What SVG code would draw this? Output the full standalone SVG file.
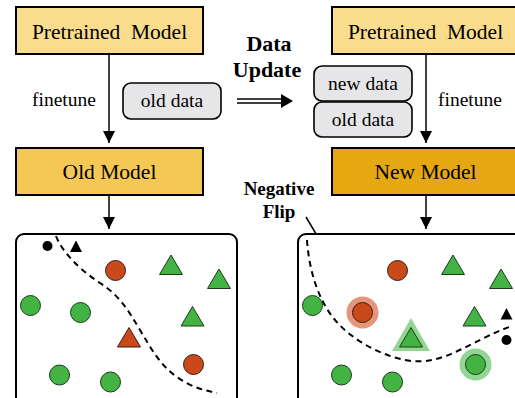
<svg xmlns="http://www.w3.org/2000/svg" width="515" height="398" viewBox="0 0 515 398">
<style>
.box{stroke:#000;stroke-width:2}
.pre{fill:#F9DC8C}
.old{fill:#F5C855}
.new{fill:#E6A812}
.data{fill:#E6E6E8;stroke:#000;stroke-width:1.6}
.panel{fill:#fff;stroke:#000;stroke-width:2}
.conn{stroke:#000;stroke-width:1.5;fill:none}
.dash{stroke:#000;stroke-width:2;fill:none;stroke-dasharray:6,4.5}
.g{fill:#43B343;stroke:#1E3A1E;stroke-width:1}
.r{fill:#C9491B;stroke:#3A1A0E;stroke-width:1}
.k{fill:#000}
.hr{fill:#E5957A}
.hg{fill:#93D693}
</style>
<defs>
<marker id="ah" viewBox="0 0 12 12" refX="12" refY="6" markerWidth="12" markerHeight="12" markerUnits="userSpaceOnUse" orient="auto">
<path d="M0,0 L12,6 L0,12 z" fill="#000"/>
</marker>
</defs>

<g id="connectors">
<line class="conn" x1="109" y1="54" x2="109" y2="143" marker-end="url(#ah)"/>
<line class="conn" x1="109" y1="195" x2="109" y2="229" marker-end="url(#ah)"/>
<line class="conn" x1="426" y1="54" x2="426" y2="143" marker-end="url(#ah)"/>
<line class="conn" x1="426" y1="195" x2="426" y2="229" marker-end="url(#ah)"/>
<line x1="237" y1="99" x2="285" y2="99" stroke="#000" stroke-width="1.6"/>
<line x1="237" y1="103" x2="285" y2="103" stroke="#000" stroke-width="1.6"/>
<path d="M281,94 L293,101 L281,108 z" fill="#000"/>
<line class="conn" x1="306" y1="217" x2="350" y2="291" marker-end="url(#ah)"/>
</g>

<g font-family="Liberation Serif, serif" text-anchor="middle" fill="#000">
<g id="pretrained-left">
<rect class="box pre" x="16" y="7" width="187" height="47"/>
<text x="109.5" y="38.5" font-size="21.5" xml:space="preserve">Pretrained  Model</text>
</g>
<g id="finetune-left">
<text x="64" y="106" font-size="19.5">finetune</text>
</g>
<g id="old-data-left">
<rect class="data" x="123" y="83" width="98" height="36" rx="8"/>
<text x="172" y="107" font-size="19.5">old data</text>
</g>
<g id="old-model">
<rect class="box old" x="16" y="148" width="187" height="47"/>
<text x="109.5" y="179" font-size="21.5">Old Model</text>
</g>

<g id="data-update">
<text font-weight="bold" x="269" y="51" font-size="22">Data</text>
<text font-weight="bold" x="267" y="77" font-size="22">Update</text>
</g>

<g id="pretrained-right">
<rect class="box pre" x="332" y="7" width="190" height="47"/>
<text x="425.5" y="38.5" font-size="21.5" xml:space="preserve">Pretrained  Model</text>
</g>
<g id="finetune-right">
<text x="470" y="106" font-size="19.5">finetune</text>
</g>
<g id="new-data">
<rect class="data" x="314" y="66" width="98" height="35" rx="8"/>
<text x="363" y="90" font-size="19.5">new data</text>
</g>
<g id="old-data-right">
<rect class="data" x="314" y="102" width="98" height="35" rx="8"/>
<text x="363" y="126" font-size="19.5">old data</text>
</g>
<g id="new-model">
<rect class="box new" x="332" y="148" width="190" height="47"/>
<text x="425.5" y="179" font-size="21.5">New Model</text>
</g>

<g id="negative-flip">
<text font-weight="bold" x="279" y="195" font-size="19">Negative</text>
<text font-weight="bold" x="279" y="218" font-size="19">Flip</text>
</g>
</g>

<g id="old-panel">
<rect class="panel" x="16" y="234" width="221" height="175" rx="8"/>
<path class="dash" d="M56,236 C62,252 80,270 100,283 S128,310 140,330 S160,365 177,377 S205,390 217,393"/>
<circle class="k" cx="47.5" cy="246" r="5"/>
<path class="k" d="M76,240.5 L82,252 L70,252 z"/>
<circle class="r" cx="115.5" cy="270.5" r="10"/>
<path class="g" d="M171,255 L182.5,274.5 L159.5,274.5 z"/>
<path class="g" d="M219,269 L230.5,288.5 L207.5,288.5 z"/>
<circle class="g" cx="30.5" cy="305.5" r="10"/>
<circle class="g" cx="80.5" cy="312.5" r="10"/>
<path class="g" d="M192.5,306.5 L204,326 L181,326 z"/>
<path class="r" d="M129,327.5 L140.5,347 L117.5,347 z"/>
<circle class="r" cx="193.5" cy="364.5" r="10"/>
<circle class="g" cx="59.5" cy="375" r="10"/>
<circle class="g" cx="110.5" cy="382" r="10"/>
</g>

<g id="new-panel">
<rect class="panel" x="298" y="234" width="230" height="175" rx="8"/>
<path class="dash" d="M307,240 C309,270 318,300 335,320 S380,355 405,360 S450,355 470,345 S500,330 512,326"/>
<circle class="r" cx="397.5" cy="270.5" r="10"/>
<path class="g" d="M453,255 L464.5,274.5 L441.5,274.5 z"/>
<path class="g" d="M501,269 L512.5,288.5 L489.5,288.5 z"/>
<circle class="g" cx="312.5" cy="305.5" r="10"/>
<circle class="hr" cx="362.5" cy="312.5" r="16"/>
<circle class="r" cx="362.5" cy="312.5" r="10"/>
<path class="g" d="M474.5,306.5 L486,326 L463,326 z"/>
<path class="hg" d="M411,318 L430,351 L392,351 z"/>
<path class="g" d="M411,327.5 L422.5,347 L399.5,347 z"/>
<path class="k" d="M506.5,308 L512.5,319.5 L500.5,319.5 z"/>
<circle class="k" cx="506.5" cy="340" r="5"/>
<circle class="hg" cx="475.5" cy="364.5" r="16"/>
<circle class="g" cx="475.5" cy="364.5" r="10"/>
<circle class="g" cx="341.5" cy="375" r="10"/>
<circle class="g" cx="392.5" cy="382" r="10"/>
</g>
</svg>
